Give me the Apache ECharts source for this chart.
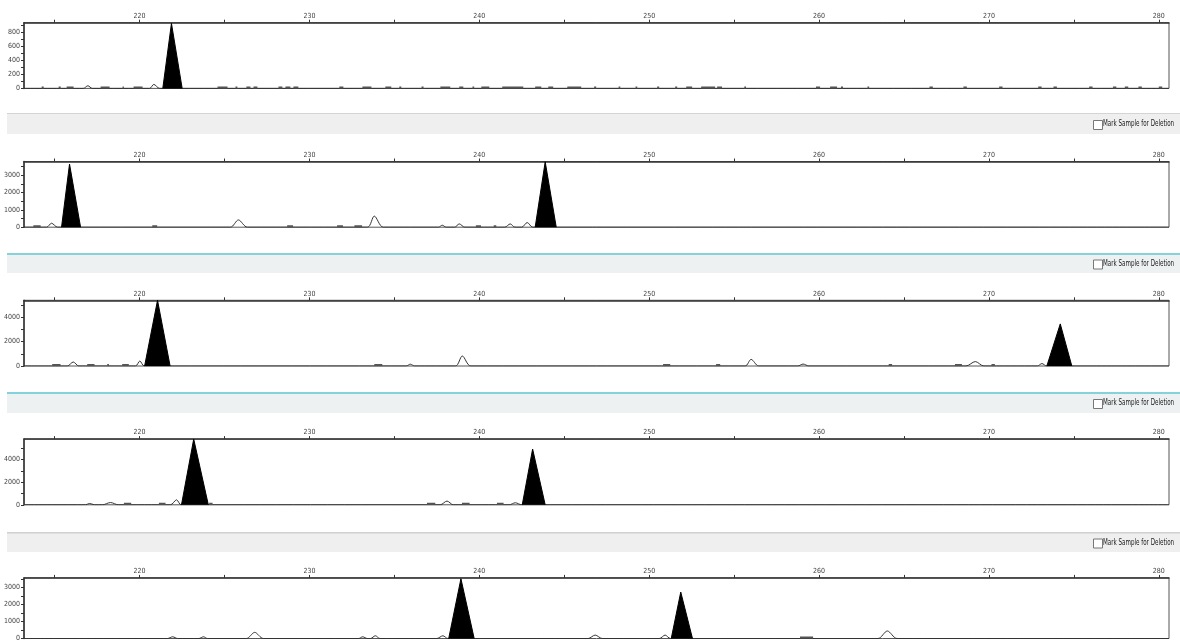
<!DOCTYPE html>
<html>
<head>
<meta charset="utf-8">
<script src="https://cdn.jsdelivr.net/npm/echarts@6/dist/echarts.min.js"></script>
<style>
html,body{margin:0;padding:0;background:#fff;}
#chart{width:1180px;height:642px;}
</style>
</head>
<body>
<div id="chart"></div>
<script>
// ---------- data (base pairs / RFU) ----------
const xMin = 213.2, xMax = 280.6;
const xTickValues = [215, 220, 225, 230, 235, 240, 245, 250, 255, 260, 265, 270, 275, 280];
const xLabelValues = [220, 230, 240, 250, 260, 270, 280];

const yMax = [940, 3800, 5400, 5800, 3550];
const yLabelValues = [
  [0, 200, 400, 600, 800],
  [0, 1000, 2000, 3000],
  [0, 2000, 4000],
  [0, 2000, 4000],
  [0, 1000, 2000, 3000]
];
const yTickValues = [
  [0, 100, 200, 300, 400, 500, 600, 700, 800, 900],
  [0, 500, 1000, 1500, 2000, 2500, 3000, 3500],
  [0, 1000, 2000, 3000, 4000, 5000],
  [0, 1000, 2000, 3000, 4000, 5000],
  [0, 500, 1000, 1500, 2000, 2500, 3000, 3500]
];

// called peaks (filled): [start, apex, end, height]
const calledP1 = [[221.37, 221.88, 222.51, 930]];
const calledP2 = [[215.41, 215.88, 216.53, 3650], [243.29, 243.88, 244.53, 3780]];
const calledP3 = [[220.30, 221.06, 221.80, 5400], [273.41, 274.20, 274.88, 3460]];
const calledP4 = [[222.47, 223.19, 224.05, 5800], [242.53, 243.14, 243.88, 4920]];
const calledP5 = [[238.20, 238.92, 239.70, 3500], [251.30, 251.86, 252.55, 2720]];

// minor peaks (outline): [start, apex, end, height]
const minorP1 = [[216.69, 216.96, 217.22, 38], [220.59, 220.84, 221.19, 57]];
const minorP2 = [[214.53, 214.82, 215.18, 230], [225.35, 225.82, 226.35, 420], [233.41, 233.82, 234.35, 640],
  [237.60, 237.82, 238.05, 115], [238.55, 238.82, 239.15, 190], [241.50, 241.82, 242.10, 190], [242.50, 242.82, 243.15, 270]];
const minorP3 = [[215.75, 216.10, 216.43, 330], [219.76, 220.02, 220.28, 410], [235.70, 235.94, 236.20, 150],
  [238.60, 239.00, 239.50, 820], [255.65, 256.00, 256.45, 545], [258.75, 259.06, 259.40, 160],
  [268.65, 269.20, 269.70, 365], [272.85, 273.12, 273.40, 200]];
const minorP4 = [[216.82, 217.06, 217.35, 120], [217.82, 218.29, 218.76, 200], [221.82, 222.18, 222.45, 440],
  [237.70, 238.10, 238.47, 330], [241.76, 242.12, 242.50, 180]];
const minorP5 = [[221.65, 221.95, 222.24, 100], [223.50, 223.76, 224.00, 100], [226.29, 226.78, 227.29, 360],
  [232.90, 233.14, 233.40, 100], [233.60, 233.88, 234.15, 160], [237.50, 237.86, 238.15, 160],
  [246.41, 246.82, 247.24, 200], [250.60, 250.94, 251.25, 200], [263.47, 264.02, 264.59, 440]];

// baseline noise dashes: [start, end, level]
const noiseP1 = [[214.24, 214.36, 14], [215.24, 215.36, 14], [215.71, 216.12, 14], [217.71, 218.24, 14], [219.00, 219.08, 14],
  [219.65, 220.18, 14], [224.59, 225.18, 14], [225.65, 225.76, 14], [226.29, 226.53, 14], [226.71, 226.94, 14],
  [228.18, 228.41, 14], [228.59, 228.88, 14], [229.06, 229.35, 14], [231.76, 232.00, 14], [233.12, 233.65, 14],
  [234.47, 234.82, 14], [235.29, 235.41, 14], [236.60, 236.72, 14], [237.71, 238.29, 14], [238.82, 239.06, 14],
  [239.60, 239.70, 14], [240.12, 240.59, 14], [241.35, 242.59, 14], [243.29, 243.65, 14], [244.06, 244.35, 14],
  [245.18, 246.00, 14], [246.76, 246.88, 14], [248.20, 248.30, 14], [249.20, 249.30, 14], [250.47, 250.59, 14],
  [251.53, 251.65, 14], [252.18, 252.53, 14], [253.06, 253.88, 14], [254.00, 254.29, 14], [255.60, 255.70, 14],
  [259.82, 260.06, 14], [260.65, 261.06, 14], [261.29, 261.41, 14], [262.85, 262.95, 14], [266.50, 266.70, 14],
  [268.50, 268.70, 14], [270.60, 270.80, 14], [272.90, 273.10, 14], [273.80, 274.00, 14], [275.90, 276.10, 14],
  [277.30, 277.50, 14], [278.00, 278.20, 14], [278.80, 279.00, 14], [280.00, 280.20, 14]];
const noiseP2 = [[213.75, 214.18, 55], [220.75, 221.04, 55], [228.69, 229.04, 55], [231.63, 231.98, 55],
  [232.65, 233.10, 55], [239.80, 240.10, 55], [240.85, 241.00, 55]];
const noiseP3 = [[214.86, 215.35, 80], [216.92, 217.35, 80], [218.10, 218.20, 80], [218.98, 219.37, 80],
  [233.82, 234.29, 80], [250.82, 251.24, 80], [253.94, 254.18, 80], [264.10, 264.30, 80], [268.00, 268.41, 80],
  [270.15, 270.35, 80]];
const noiseP4 = [[219.08, 219.51, 88], [221.14, 221.53, 88], [224.10, 224.30, 88], [236.92, 237.41, 88],
  [238.98, 239.43, 88], [241.04, 241.43, 88]];
const noiseP5 = [[258.88, 259.65, 55]];

const calledAll = [calledP1, calledP2, calledP3, calledP4, calledP5];
const minorAll = [minorP1, minorP2, minorP3, minorP4, minorP5];
const noiseAll = [noiseP1, noiseP2, noiseP3, noiseP4, noiseP5];

// ---------- layout ----------
const gridTops = [22.7, 161.5, 300.3, 439.1, 577.9];
const gridH = 65.7;
const FONT = "'Liberation Sans Narrow', 'DejaVu Sans Condensed', 'Liberation Sans', sans-serif";

function buildTrace(minor) {
  const sorted = minor.slice().sort((a, b) => a[0] - b[0]);
  const data = [[xMin, 0]];
  sorted.forEach(p => { data.push([p[0], 0], [p[1], p[3]], [p[2], 0]); });
  data.push([xMax, 0]);
  return data;
}
function buildNoise(noise) {
  const data = [];
  noise.forEach(n => { data.push([n[0], n[2]], [n[1], n[2]], [n[1], null]); });
  return data;
}

const grids = [], xAxes = [], yAxes = [], series = [];
for (let i = 0; i < 5; i++) {
  grids.push({
    left: 24, right: 11, top: gridTops[i], height: gridH,
    show: true, borderColor: '#555', borderWidth: 1, backgroundColor: 'transparent'
  });
  xAxes.push({
    gridIndex: i, type: 'value', position: 'top', min: xMin, max: xMax,
    axisLine: { show: true, onZero: false, lineStyle: { color: '#333', width: 1.5 } },
    axisTick: { show: true, length: 3, customValues: xTickValues, lineStyle: { color: '#333', width: 1 } },
    axisLabel: { show: true, customValues: xLabelValues, fontSize: 7, color: '#444', margin: 3, fontFamily: FONT,
      formatter: v => String(v) },
    splitLine: { show: false }
  });
  yAxes.push({
    gridIndex: i, type: 'value', min: 0, max: yMax[i],
    axisLine: { show: true, onZero: false, lineStyle: { color: '#333', width: 1.5 } },
    axisTick: { show: true, length: 3, customValues: yTickValues[i], lineStyle: { color: '#333', width: 1 } },
    axisLabel: { show: true, customValues: yLabelValues[i], fontSize: 7, color: '#444', margin: 4, fontFamily: FONT,
      formatter: v => String(v) },
    splitLine: { show: false }
  });
  series.push({
    type: 'line', xAxisIndex: i, yAxisIndex: i, data: buildTrace(minorAll[i]),
    symbol: 'none', showSymbol: false, animation: false, silent: true, z: 3, smooth: 0.3,
    lineStyle: { color: '#333', width: 1 }
  });
  series.push({
    type: 'line', xAxisIndex: i, yAxisIndex: i, data: buildNoise(noiseAll[i]), connectNulls: false,
    symbol: 'none', showSymbol: false, animation: false, silent: true, z: 3,
    lineStyle: { color: '#555', width: 2 }
  });
  calledAll[i].forEach(p => {
    series.push({
      type: 'line', xAxisIndex: i, yAxisIndex: i,
      data: [[p[0], 0], [p[1], p[3]], [p[2], 0]],
      symbol: 'none', showSymbol: false, animation: false, silent: true, z: 4,
      lineStyle: { color: '#000', width: 1 },
      areaStyle: { color: '#000', opacity: 1, origin: 0 }
    });
  });
}

// separator bands with the deletion checkbox
const bands = [
  { y: 113, h: 21, line: '#d4d4d4', lineW: 1, fill: '#efefef' },
  { y: 253, h: 20, line: '#86d2da', lineW: 2, fill: '#eef1f2' },
  { y: 392, h: 21, line: '#86d2da', lineW: 2, fill: '#eef1f2' },
  { y: 532, h: 20, line: '#d0d0d0', lineW: 1.5, fill: '#efefef' }
];
const graphics = [];
bands.forEach(b => {
  graphics.push({ type: 'rect', left: 7, top: b.y, shape: { width: 1173, height: b.h }, style: { fill: b.fill }, silent: true, z: 0 });
  graphics.push({ type: 'rect', left: 7, top: b.y, shape: { width: 1173, height: b.lineW }, style: { fill: b.line }, silent: true, z: 1 });
  const cy = b.y + b.h / 2 + 1;
  graphics.push({ type: 'rect', left: 1093, top: cy - 4.5, shape: { width: 9, height: 9 }, style: { fill: '#fff', stroke: '#777', lineWidth: 1 }, silent: true, z: 2 });
  graphics.push({ type: 'text', x: 1103, y: cy - 5, scaleX: 0.73, style: { text: 'Mark Sample for Deletion', fontSize: 8.5, fontFamily: FONT, fill: '#222' }, silent: true, z: 2 });
});

const chart = echarts.init(document.getElementById('chart'), null, { renderer: 'canvas' });
chart.setOption({
  backgroundColor: '#ffffff',
  animation: false,
  grid: grids,
  xAxis: xAxes,
  yAxis: yAxes,
  series: series,
  graphic: graphics
});
</script>
</body>
</html>
